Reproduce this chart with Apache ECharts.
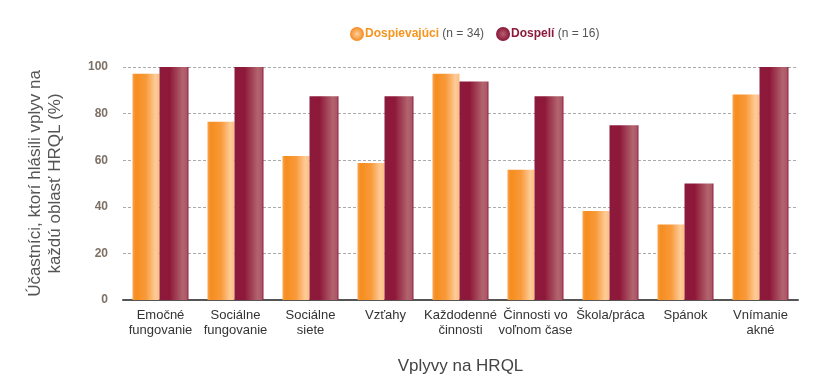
<!DOCTYPE html>
<html>
<head>
<meta charset="utf-8">
<script src="https://cdn.jsdelivr.net/npm/echarts@6/dist/echarts.min.js"></script>
<style>
html,body{margin:0;padding:0;background:#fff;}
#chart{width:821px;height:383px;}
</style>
</head>
<body>
<div id="chart"></div>
<script>
const categories = ['Emočné\nfungovanie','Sociálne\nfungovanie','Sociálne\nsiete','Vzťahy','Každodenné\nčinnosti','Činnosti vo\nvoľnom čase','Škola/práca','Spánok','Vnímanie\nakné'];
const adolescents = [97.1, 76.5, 61.8, 58.8, 97.1, 55.9, 38.2, 32.4, 88.2];
const adults = [100, 100, 87.5, 87.5, 93.75, 87.5, 75, 50, 100];
const yTicks = [0, 20, 40, 60, 80, 100];
const seriesNames = ['Dospievajúci', 'Dospelí'];
const seriesN = ['(n = 34)', '(n = 16)'];

const orangeGrad = new echarts.graphic.LinearGradient(0,0,1,0,[
  {offset:0,color:'#f9a450'},{offset:0.12,color:'#f68d1e'},{offset:0.5,color:'#f89a3a'},{offset:0.85,color:'#fdcb98'},{offset:1,color:'#fbbd7e'}]);
const redGrad = new echarts.graphic.LinearGradient(0,0,1,0,[
  {offset:0,color:'#8c1a3c'},{offset:0.35,color:'#8e1839'},{offset:0.8,color:'#b2646e'},{offset:0.93,color:'#ad5867'},{offset:1,color:'#8e2040'}]);
const orangeIcon = new echarts.graphic.RadialGradient(0.5,0.5,0.5,[{offset:0,color:'#fdd0a0'},{offset:1,color:'#f68b1f'}]);
const redIcon = new echarts.graphic.RadialGradient(0.5,0.5,0.5,[{offset:0,color:'#b5606e'},{offset:1,color:'#8a1538'}]);

const chart = echarts.init(document.getElementById('chart'));
chart.setOption({
  animation:false,
  backgroundColor:'#fff',
  legend:{
    left:345, top:22, itemWidth:14, itemHeight:14, itemGap:12, icon:'circle',
    data:[{name:seriesNames[0], itemStyle:{color:orangeIcon}},{name:seriesNames[1], itemStyle:{color:redIcon}}],
    formatter:function(n){
      const i = seriesNames.indexOf(n);
      return '{' + (i===0?'a':'b') + '|' + n + '} {n|' + seriesN[i] + '}';
    },
    textStyle:{
      padding:[0,0,0,-4],
      rich:{
        a:{color:'#f7941d',fontWeight:'bold',fontSize:12,fontFamily:'Liberation Sans, Arial'},
        b:{color:'#8b1a3c',fontWeight:'bold',fontSize:12,fontFamily:'Liberation Sans, Arial'},
        n:{color:'#555',fontSize:12,fontFamily:'Liberation Sans, Arial'}
      }
    }
  },
  grid:{left:123,right:23,top:67,bottom:83},
  xAxis:{
    type:'category', data:categories,
    axisLine:{lineStyle:{color:'#555',width:2}},
    axisTick:{show:false},
    axisLabel:{color:'#333',fontSize:13,fontFamily:'Liberation Sans, Arial',lineHeight:15,margin:8,interval:0},
    name:'Vplyvy na HRQL', nameLocation:'middle', nameGap:58,
    nameTextStyle:{color:'#444',fontSize:17,fontFamily:'Liberation Sans, Arial'}
  },
  yAxis:{
    type:'value', min:0, max:100, interval:20,
    axisLine:{show:false}, axisTick:{show:false},
    axisLabel:{color:'#7d7066',fontWeight:'bold',fontSize:12,fontFamily:'Liberation Sans, Arial',margin:15,
      formatter:function(v){return yTicks.indexOf(v)>=0?String(v):'';}},
    splitLine:{lineStyle:{color:'#aaa',type:[3,2],width:1}},
    name:'Účastníci, ktorí hlásili vplyv na\nkaždú oblasť HRQL (%)', nameLocation:'middle', nameGap:58,
    nameTextStyle:{color:'#555',fontSize:17,fontFamily:'Liberation Sans, Arial',lineHeight:20}
  },
  series:[
    {name:seriesNames[0], type:'bar', data:adolescents, barWidth:27, barGap:'0%', itemStyle:{color:orangeGrad}},
    {name:seriesNames[1], type:'bar', data:adults, barWidth:29, barGap:'0%', itemStyle:{color:redGrad}}
  ]
});
</script>
</body>
</html>
